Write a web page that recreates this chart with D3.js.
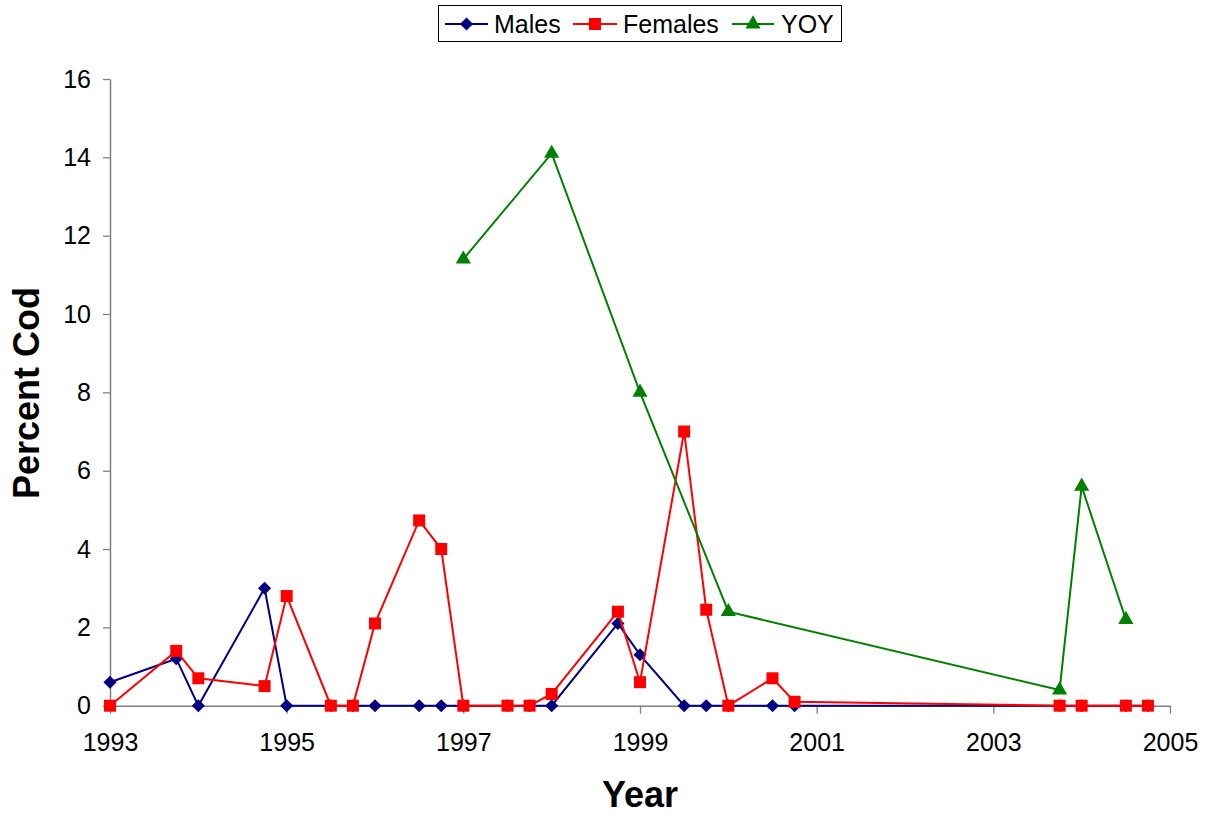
<!DOCTYPE html>
<html>
<head>
<meta charset="utf-8">
<script src="https://cdn.jsdelivr.net/npm/d3@7"></script>
<style>
  html, body { margin: 0; padding: 0; background: #fff; }
  svg { display: block; font-family: "Liberation Sans", Arial, sans-serif; }
</style>
</head>
<body>
<svg id="chart" width="1207" height="816"></svg>
<script>
// Sampling dates (decimal years) and percentages per group
const maleYears   = [1993, 1993.75, 1994, 1994.75, 1995, 1995.5, 1995.75, 1996, 1996.5, 1996.75, 1997, 1997.5, 1997.75, 1998, 1998.75, 1999, 1999.5, 1999.75, 2000, 2000.5, 2000.75, 2003.75, 2004, 2004.5, 2004.75];
const maleValues  = [0.6, 1.2, 0, 3.0, 0, 0, 0, 0, 0, 0, 0, 0, 0, 0, 2.1, 1.3, 0, 0, 0, 0, 0, 0, 0, 0, 0];

const femaleYears  = [1993, 1993.75, 1994, 1994.75, 1995, 1995.5, 1995.75, 1996, 1996.5, 1996.75, 1997, 1997.5, 1997.75, 1998, 1998.75, 1999, 1999.5, 1999.75, 2000, 2000.5, 2000.75, 2003.75, 2004, 2004.5, 2004.75];
const femaleValues = [0, 1.4, 0.7, 0.5, 2.8, 0, 0, 2.1, 4.73, 4.0, 0, 0, 0, 0.3, 2.4, 0.6, 7.0, 2.45, 0, 0.7, 0.1, 0, 0, 0, 0];

const yoyYears  = [1997, 1998, 1999, 2000, 2003.75, 2004, 2004.5];
const yoyValues = [11.4, 14.1, 8.0, 2.4, 0.4, 5.6, 2.2];

const xTickValues = [1993, 1995, 1997, 1999, 2001, 2003, 2005];
const yTickValues = [0, 2, 4, 6, 8, 10, 12, 14, 16];

const seriesNames = ["Males", "Females", "YOY"];

const svg = d3.select("#chart");

const x = d3.scaleLinear().domain([1993, 2005]).range([110, 1170]);
const y = d3.scaleLinear().domain([0, 16]).range([705.7, 79]);

const axisColor = "#808080";

// Y axis
const yAxis = svg.append("g")
  .attr("transform", `translate(${x(1993)},0)`)
  .call(d3.axisLeft(y).tickValues(yTickValues).tickSize(7).tickSizeOuter(0).tickPadding(12));
// X axis
const xAxis = svg.append("g")
  .attr("transform", `translate(0,${y(0)})`)
  .call(d3.axisBottom(x).tickValues(xTickValues).tickFormat(d3.format("d")).tickSize(8).tickSizeOuter(0).tickPadding(20));

[yAxis, xAxis].forEach(g => {
  g.select(".domain").attr("stroke", axisColor).attr("stroke-width", 1.5);
  g.selectAll(".tick line").attr("stroke", axisColor).attr("stroke-width", 1.3);
  g.selectAll(".tick text").attr("fill", "#000").style("font-size", "25px").style("font-family", "'Liberation Sans', Arial, sans-serif");
});

// Axis titles
svg.append("text")
  .attr("x", 640).attr("y", 807)
  .attr("text-anchor", "middle")
  .style("font-size", "36px").style("font-weight", "bold")
  .text("Year");

svg.append("text")
  .attr("transform", "translate(39,393) rotate(-90)")
  .attr("text-anchor", "middle")
  .style("font-size", "36px").style("font-weight", "bold")
  .text("Percent Cod");

const symDiamond = d3.symbol().type(d3.symbolDiamond2).size(110);
const symSquare = d3.symbol().type(d3.symbolSquare).size(144);
const symTriangle = d3.symbol().type(d3.symbolTriangle).size(100);

const series = [
  { name: seriesNames[0], xs: maleYears, ys: maleValues, color: "#000080", sym: symDiamond },
  { name: seriesNames[1], xs: femaleYears, ys: femaleValues, color: "#ff0000", sym: symSquare },
  { name: seriesNames[2], xs: yoyYears, ys: yoyValues, color: "#008000", sym: symTriangle }
];

const line = d3.line().x(d => x(d[0])).y(d => y(d[1]));

series.forEach(s => {
  const pts = s.xs.map((v, i) => [v, s.ys[i]]);
  const g = svg.append("g");
  g.append("path")
    .datum(pts)
    .attr("d", line)
    .attr("fill", "none")
    .attr("stroke", s.color)
    .attr("stroke-width", 2);
  g.selectAll("path.mk")
    .data(pts)
    .join("path")
    .attr("class", "mk")
    .attr("d", s.sym)
    .attr("transform", d => `translate(${x(d[0])},${y(d[1])})`)
    .attr("fill", s.color);
});

// Legend
const legend = svg.append("g");
legend.append("rect")
  .attr("x", 438.5).attr("y", 5.5)
  .attr("width", 403).attr("height", 36)
  .attr("fill", "#fff").attr("stroke", "#000").attr("stroke-width", 1);

const legendItems = [
  { s: series[0], x0: 445, x1: 488, tx: 494 },
  { s: series[1], x0: 573, x1: 617, tx: 623 },
  { s: series[2], x0: 732, x1: 774, tx: 781 }
];
legendItems.forEach(it => {
  const cy = 24;
  legend.append("line")
    .attr("x1", it.x0).attr("x2", it.x1)
    .attr("y1", cy).attr("y2", cy)
    .attr("stroke", it.s.color).attr("stroke-width", 2);
  legend.append("path")
    .attr("d", it.s.sym)
    .attr("transform", `translate(${(it.x0 + it.x1) / 2},${cy})`)
    .attr("fill", it.s.color);
  legend.append("text")
    .attr("x", it.tx).attr("y", 33)
    .style("font-size", "25px")
    .text(it.s.name);
});
</script>
</body>
</html>
